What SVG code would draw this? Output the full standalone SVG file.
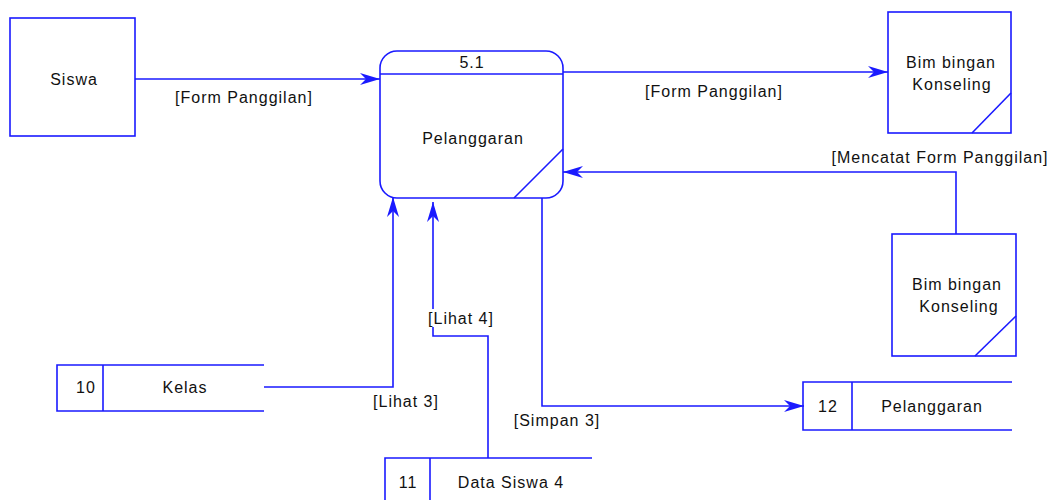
<svg xmlns="http://www.w3.org/2000/svg" width="1051" height="500" viewBox="0 0 1051 500">
<defs>
<style>
.s{fill:none;stroke:#1a1aff;stroke-width:1.6}
.b{fill:#fff;stroke:#1a1aff;stroke-width:1.6}
.c{fill:none;stroke:#1a1aff;stroke-width:1.6}
text{font-family:"Liberation Sans",Arial,sans-serif;font-size:16px;letter-spacing:1px;fill:#111}
.m{text-anchor:middle}
</style>
<marker id="ah" viewBox="0 0 20 12" refX="20" refY="6" markerWidth="20" markerHeight="12" markerUnits="userSpaceOnUse" orient="auto">
<path d="M0,0 L20,6 L0,12 L6,6 Z" fill="#1a1aff"/>
</marker>
</defs>
<rect width="1051" height="500" fill="#fff"/>

<g id="connectors">
<polyline class="c" points="135,79 380,79" marker-end="url(#ah)"/>
<polyline class="c" points="562,72 888,72" marker-end="url(#ah)"/>
<polyline class="c" points="956,234 956,172 563,172" marker-end="url(#ah)"/>
<polyline class="c" points="264,387 393,387 393,197" marker-end="url(#ah)"/>
<polyline class="c" points="488,458 488,336 433,336 433,202" marker-end="url(#ah)"/>
<polyline class="c" points="542,198 542,406 804,406" marker-end="url(#ah)"/>
<rect x="425" y="309" width="70" height="18" fill="#fff"/>
<text x="244" y="103" class="m">[Form Panggilan]</text>
<text x="714" y="97" class="m">[Form Panggilan]</text>
<text x="940" y="163" class="m">[Mencatat Form Panggilan]</text>
<text x="406" y="407" class="m">[Lihat 3]</text>
<text x="461" y="324" class="m">[Lihat 4]</text>
<text x="557" y="426" class="m">[Simpan 3]</text>
</g>

<g id="siswa">
<rect class="b" x="10" y="18" width="125" height="118"/>
<text x="74" y="85" class="m">Siswa</text>
</g>

<g id="process">
<rect class="b" x="380" y="51" width="183" height="147" rx="17" ry="17"/>
<line class="s" x1="380" y1="74" x2="563" y2="74"/>
<line class="s" x1="514" y1="198" x2="563" y2="149"/>
<text x="472" y="68" class="m">5.1</text>
<text x="473" y="144" class="m">Pelanggaran</text>
</g>

<g id="bk1">
<rect class="b" x="888" y="12" width="123" height="121"/>
<line class="s" x1="972" y1="133" x2="1011" y2="93"/>
<text x="951" y="68" class="m">Bim bingan</text>
<text x="952" y="90" class="m">Konseling</text>
</g>

<g id="bk2">
<rect class="b" x="892" y="234" width="124" height="122"/>
<line class="s" x1="975" y1="356" x2="1016" y2="316"/>
<text x="957" y="290" class="m">Bim bingan</text>
<text x="959" y="312" class="m">Konseling</text>
</g>

<g id="kelas">
<path class="s" d="M264,365 H57 V411 H264 M103,365 V411"/>
<text x="86" y="393" class="m">10</text>
<text x="185" y="393" class="m">Kelas</text>
</g>

<g id="datasiswa">
<path class="s" d="M592,458 H385 V502 M430,458 V502"/>
<text x="408" y="488" class="m">11</text>
<text x="511" y="488" class="m">Data Siswa 4</text>
</g>

<g id="pelanggaran-store">
<path class="s" d="M1012,382 H803 V430 H1012 M852,382 V430"/>
<text x="828" y="412" class="m">12</text>
<text x="932" y="412" class="m">Pelanggaran</text>
</g>
</svg>
